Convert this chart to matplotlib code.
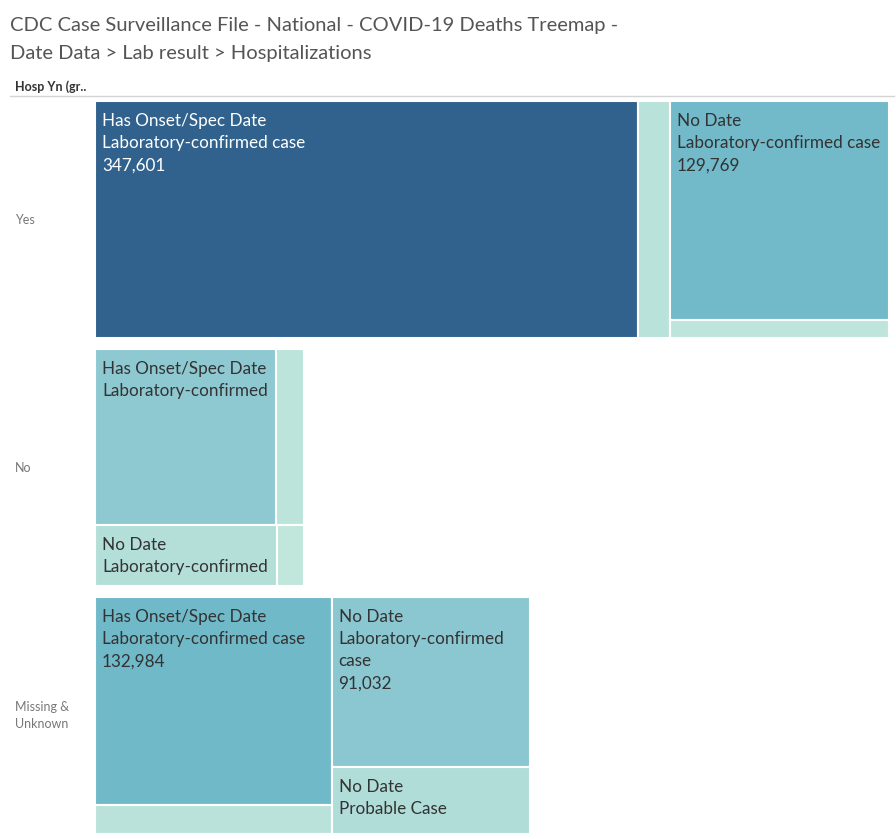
import matplotlib
matplotlib.use("Agg")
import matplotlib.pyplot as plt
from matplotlib.colors import LinearSegmentedColormap, Normalize
from matplotlib.patches import Rectangle

plt.rcParams["font.family"] = ["Lato", "DejaVu Sans"]

# Hosp Yn (group) > Date Data > Lab result
hosp_groups = ["Yes", "No", "Missing &\nUnknown"]
date_groups = ["Has Onset/Spec Date", "No Date"]
lab_results = ["Laboratory-confirmed case", "Probable Case"]

# deaths, [date group][lab result]; unlabeled cells are estimated from area
deaths_yes = [[347601, 20600], [129769, 10600]]
deaths_no = [[86100, 13300], [30000, 4400]]
deaths_missing = [[132984, 18500], [91032, 36000]]

# text Tableau actually shows in each cell (truncated where it ran out of room)
labels_yes = [["Has Onset/Spec Date\nLaboratory-confirmed case\n347,601", ""],
              ["No Date\nLaboratory-confirmed case\n129,769", ""]]
labels_no = [["Has Onset/Spec Date\nLaboratory-confirmed", ""],
             ["No Date\nLaboratory-confirmed", ""]]
labels_missing = [["Has Onset/Spec Date\nLaboratory-confirmed case\n132,984", ""],
                  ["No Date\nLaboratory-confirmed\ncase\n91,032", "No Date\nProbable Case"]]

all_deaths = [deaths_yes, deaths_no, deaths_missing]
all_labels = [labels_yes, labels_no, labels_missing]

# layout (pixels)
W, H = 896, 839
left, full_width = 95, 794
row_tops = [101, 349, 597]
row_height = 237


def split(x, y, w, h, sizes):
    """Slice a rectangle along its longer side, proportional to sizes."""
    total = float(sum(sizes))
    rects = []
    for s in sizes:
        if w > h:
            sw = w * s / total
            rects.append((x, y, sw, h))
            x += sw
        else:
            sh = h * s / total
            rects.append((x, y, w, sh))
            y += sh
    return rects


cmap = LinearSegmentedColormap.from_list("blue_teal", [
    (0.0, "#C3E7DD"),
    (0.09, "#B3DFD9"),
    (0.25, "#8DC9D2"),
    (0.38, "#70B9C8"),
    (1.0, "#30628D"),
])
vmax = max(v for grp in all_deaths for row in grp for v in row)
norm = Normalize(0, vmax)

row_totals = [sum(sum(r) for r in grp) for grp in all_deaths]
density = max(row_totals) / (full_width * row_height)

fig = plt.figure(figsize=(W / 100, H / 100), dpi=100)
ax = fig.add_axes([0, 0, 1, 1])
ax.set_xlim(0, W)
ax.set_ylim(H, 0)
ax.axis("off")

for name, grp, labs, top, total in zip(hosp_groups, all_deaths, all_labels,
                                       row_tops, row_totals):
    width = total / (density * row_height)
    date_rects = split(left, top, width, row_height, [sum(r) for r in grp])
    for (gx, gy, gw, gh), vals, texts in zip(date_rects, grp, labs):
        for (x, y, w, h), v, txt in zip(split(gx, gy, gw, gh, vals), vals, texts):
            ax.add_patch(Rectangle((x, y), w, h, facecolor=cmap(norm(v)),
                                   edgecolor="white", linewidth=1.5))
            if txt:
                color = "white" if norm(v) > 0.6 else "#333333"
                ax.text(x + 7, y + 12, txt, ha="left", va="top", fontsize=12.3,
                        color=color, linespacing=1.48)
    ax.text(15, top + row_height / 2, name, ha="left", va="center",
            fontsize=9, color="#777777", linespacing=1.5)

ax.text(10, 26, "CDC Case Surveillance File - National - COVID-19 Deaths Treemap -",
        ha="left", va="center", fontsize=14.5, color="#555555")
ax.text(10, 54, "Date Data > Lab result > Hospitalizations",
        ha="left", va="center", fontsize=14.5, color="#555555")
ax.text(15, 87, "Hosp Yn (gr..", ha="left", va="center", fontsize=9,
        color="#333333", fontweight="bold")
ax.plot([10, 894], [96, 96], color="#d4d4d4", linewidth=1)

fig.savefig("out.png", dpi=100)
